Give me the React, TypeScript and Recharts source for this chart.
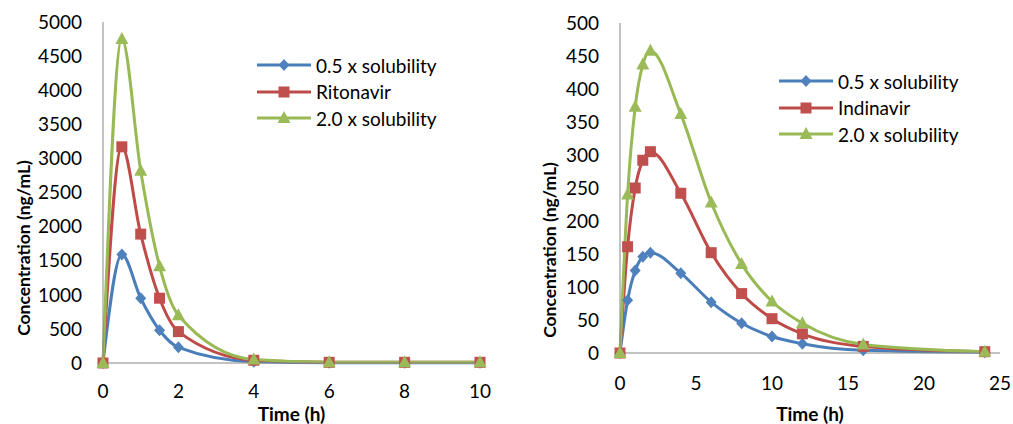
import { LineChart, Line, XAxis, YAxis } from 'recharts'

// Left panel: Ritonavir
const leftTime = [0, 0.5, 1, 1.5, 2, 4, 6, 8, 10]
const leftLow = [0, 1590, 950, 480, 230, 20, 5, 5, 5]
const leftRitonavir = [0, 3170, 1890, 950, 460, 40, 10, 10, 10]
const leftHigh = [0, 4750, 2820, 1420, 700, 50, 10, 10, 10]
const leftXTicks = [0, 2, 4, 6, 8, 10]
const leftYTicks = [0, 500, 1000, 1500, 2000, 2500, 3000, 3500, 4000, 4500, 5000]

// Right panel: Indinavir
const rightTime = [0, 0.5, 1, 1.5, 2, 4, 6, 8, 10, 12, 16, 24]
const rightLow = [0, 80, 125, 146, 152, 121, 77, 45, 25, 14, 4, 1]
const rightIndinavir = [0, 161, 250, 292, 305, 242, 152, 90, 52, 29, 10, 2]
const rightHigh = [0, 240, 373, 437, 458, 362, 228, 135, 78, 45, 13, 2]
const rightXTicks = [0, 5, 10, 15, 20, 25]
const rightYTicks = [0, 50, 100, 150, 200, 250, 300, 350, 400, 450, 500]

const FONT = 'Lato, "Open Sans", sans-serif'
const AXIS_GREY = '#868686'

type Shape = 'diamond' | 'square' | 'triangle'

const series: { key: string; shape: Shape; stroke: string; fill: string }[] = [
    { key: 'low', shape: 'diamond', stroke: '#4A7EBB', fill: '#4F81BD' },
    { key: 'mid', shape: 'square', stroke: '#BE4B48', fill: '#C0504D' },
    { key: 'high', shape: 'triangle', stroke: '#98B954', fill: '#9BBB59' },
]

function Marker({ shape, cx, cy, fill }: { shape: Shape; cx: number; cy: number; fill: string }) {
    if (shape === 'diamond') {
        return <polygon points={`${cx},${cy - 6} ${cx + 5.5},${cy} ${cx},${cy + 6} ${cx - 5.5},${cy}`} fill={fill} />
    }
    if (shape === 'square') {
        return <rect x={cx - 5.5} y={cy - 5.5} width={11} height={11} fill={fill} />
    }
    return <polygon points={`${cx},${cy - 7} ${cx + 6.5},${cy + 5} ${cx - 6.5},${cy + 5}`} fill={fill} />
}

const dotFor = (shape: Shape, fill: string) => (props: any) => {
    const { cx, cy, index } = props
    if (cx == null || cy == null) return <g key={`${shape}-${index}`} />
    return <Marker key={`${shape}-${index}`} shape={shape} cx={cx} cy={cy} fill={fill} />
}

// legend drawn as an overlay so it does not eat into the plot area
function LegendBox({ names, top, left }: { names: string[]; top: number; left: number }) {
    return (
        <div style={{ position: 'absolute', top, left, fontFamily: FONT, fontSize: 19, color: '#000' }}>
            {series.map((s, i) => (
                <div key={s.key} style={{ display: 'flex', alignItems: 'center', height: 26.5 }}>
                    <svg width={54} height={26} style={{ marginRight: 5 }}>
                        <line x1={0} x2={54} y1={13} y2={13} stroke={s.stroke} strokeWidth={3} />
                        <Marker shape={s.shape} cx={27} cy={13} fill={s.fill} />
                    </svg>
                    <span style={{ whiteSpace: 'nowrap' }}>{names[i]}</span>
                </div>
            ))}
        </div>
    )
}

const xTitle = (x: number, y: number) => () => (
    <text x={x} y={y} textAnchor="middle" fontFamily={FONT} fontSize={19} fontWeight="bold" fill="#000">
        Time (h)
    </text>
)

const yTitle = (x: number, y: number) => () => (
    <text
        x={x}
        y={y}
        transform={`rotate(-90 ${x} ${y})`}
        textAnchor="middle"
        dominantBaseline="central"
        fontFamily={FONT}
        fontSize={17.5}
        fontWeight="bold"
        fill="#000"
    >
        Concentration (ng/mL)
    </text>
)

interface PanelProps {
    time: number[]
    low: number[]
    mid: number[]
    high: number[]
    names: string[]
    width: number
    margin: { top: number; right: number; left: number; bottom: number }
    yWidth: number
    xHeight: number
    xMax: number
    yMax: number
    xTicks: number[]
    yTicks: number[]
    xTickMargin: number
    legendPos: { top: number; left: number }
    xTitlePos: [number, number]
    yTitlePos: [number, number]
}

function Panel(p: PanelProps) {
    const data = p.time.map((t, i) => ({ time: t, low: p.low[i], mid: p.mid[i], high: p.high[i] }))
    const tick = { fontFamily: FONT, fontSize: 19, fill: '#000' }
    return (
        <div style={{ position: 'relative', width: p.width, height: 424 }}>
            <LineChart width={p.width} height={424} data={data} margin={p.margin}>
                <XAxis
                    dataKey="time"
                    type="number"
                    domain={[0, p.xMax]}
                    ticks={p.xTicks}
                    tickLine={false}
                    tickSize={0}
                    tickMargin={p.xTickMargin}
                    height={p.xHeight}
                    stroke={AXIS_GREY}
                    tick={tick}
                    label={xTitle(p.xTitlePos[0], p.xTitlePos[1])}
                />
                <YAxis
                    type="number"
                    domain={[0, p.yMax]}
                    ticks={p.yTicks}
                    tickLine={false}
                    tickSize={0}
                    tickMargin={21}
                    width={p.yWidth}
                    stroke={AXIS_GREY}
                    tick={tick}
                    interval={0}
                    label={yTitle(p.yTitlePos[0], p.yTitlePos[1])}
                />
                {series.map((s) => (
                    <Line
                        key={s.key}
                        dataKey={s.key}
                        type="monotone"
                        stroke={s.stroke}
                        strokeWidth={3}
                        dot={dotFor(s.shape, s.fill)}
                        activeDot={false}
                        isAnimationActive={false}
                    />
                ))}
            </LineChart>
            <LegendBox names={p.names} top={p.legendPos.top} left={p.legendPos.left} />
        </div>
    )
}

export default function App() {
    return (
        <div style={{ position: 'absolute', left: 0, top: 0, width: 1013, height: 424, background: '#fff' }}>
            <div style={{ position: 'absolute', left: 0, top: 0 }}>
                <Panel
                    time={leftTime}
                    low={leftLow}
                    mid={leftRitonavir}
                    high={leftHigh}
                    names={['0.5 x solubility', 'Ritonavir', '2.0 x solubility']}
                    width={510}
                    margin={{ top: 22, right: 30, left: 0, bottom: 0 }}
                    yWidth={103}
                    xHeight={61}
                    xMax={10}
                    yMax={5000}
                    xTicks={leftXTicks}
                    yTicks={leftYTicks}
                    xTickMargin={22}
                    legendPos={{ top: 52, left: 257 }}
                    xTitlePos={[291.5, 421]}
                    yTitlePos={[23, 248]}
                />
            </div>
            <div style={{ position: 'absolute', left: 510, top: 0 }}>
                <Panel
                    time={rightTime}
                    low={rightLow}
                    mid={rightIndinavir}
                    high={rightHigh}
                    names={['0.5 x solubility', 'Indinavir', '2.0 x solubility']}
                    width={503}
                    margin={{ top: 23, right: 13, left: 0, bottom: 0 }}
                    yWidth={110}
                    xHeight={71}
                    xMax={25}
                    yMax={500}
                    xTicks={rightXTicks}
                    yTicks={rightYTicks}
                    xTickMargin={24}
                    legendPos={{ top: 68, left: 269 }}
                    xTitlePos={[300, 421]}
                    yTitlePos={[39, 250]}
                />
            </div>
        </div>
    )
}
